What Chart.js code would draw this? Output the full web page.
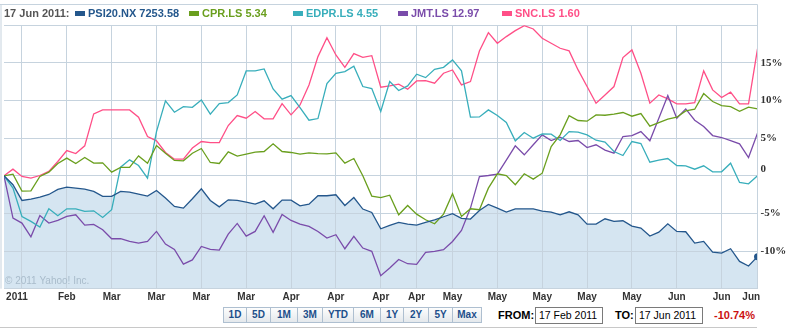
<!DOCTYPE html>
<html>
<head>
<meta charset="utf-8">
<script src="https://cdn.jsdelivr.net/npm/chart.js@4"></script>
<style>
    body { margin: 0; width: 793px; height: 329px; position: relative; overflow: hidden; background: #fff; font-family: "Liberation Sans", Arial, sans-serif; }
    #grafica { position: absolute; left: 0; top: 0; }
    .leyenda { position: absolute; top: 7px; font-weight: bold; font-size: 11px; white-space: nowrap; line-height: 13px; }
    .muestra { position: absolute; top: 11px; width: 10px; height: 5px; }
    #botones { position: absolute; left: 223px; top: 307px; height: 16px; display: flex; }
    #botones div { box-sizing: border-box; height: 16px; border: 1px solid #aebfd0; margin-right: 0; background: linear-gradient(#fdfdfd, #e4e8ec); color: #1d4f8b; font-weight: bold; font-size: 10px; line-height: 14px; text-align: center; }
    .etiqueta { position: absolute; top: 309px; font-weight: bold; font-size: 11px; color: #000; }
    .caja { position: absolute; top: 307px; height: 17px; box-sizing: border-box; border: 1px solid #7a7a7a; font-size: 10.5px; line-height: 15px; padding-left: 3px; color: #000; }
    #cambio { position: absolute; left: 714px; top: 309px; color: #cc1111; font-weight: bold; font-size: 11px; }
    #linea { position: absolute; left: 0; top: 327px; width: 757px; height: 1px; background: #c8c8c8; }
</style>
</head>
<body>
<canvas id="grafica" width="793" height="305"></canvas>
<div id="leyenda"></div>
<div id="botones"></div>
<div class="etiqueta" style="left:498px">FROM:</div>
<div class="caja" style="left:535px; width:68px">17 Feb 2011</div>
<div class="etiqueta" style="left:615px">TO:</div>
<div class="caja" style="left:635px; width:68px">17 Jun 2011</div>
<div id="cambio">-10.74%</div>
<div id="linea"></div>
<script>
// variación % desde 17 Feb 2011, una lectura por sesión
const psi20 = [0, -1.19, -3.27, -3.10, -2.83, -2.48, -1.81, -1.50, -1.64, -1.77, -2.08, -2.74, -2.74, -2.08, -2.17, -2.43, -2.70, -1.95, -2.96, -4.07, -4.29, -3.05,
    -1.73, -3.27, -4.12, -3.19, -3.27, -3.50, -3.76, -3.32, -4.38, -3.23, -3.23, -3.98, -3.76, -2.65, -2.65, -2.52, -3.94, -2.88, -4.42, -4.87, -7.04,
    -6.59, -6.19, -6.42, -6.55, -6.19, -5.84, -5.44, -5.04, -5.66, -5.75, -4.60, -3.81, -4.29, -4.82, -4.38, -4.38, -4.38, -4.69, -4.82, -5.18, -4.78,
    -5.18, -6.42, -6.42, -5.71, -6.06, -5.97, -6.68, -6.95, -8.01, -7.48, -6.37, -7.39, -7.43, -8.94, -8.72, -10.13, -10.27, -9.69, -11.37, -11.99, -10.74];
const cpr = [0, 0.22, -2.04, -1.99, -0.09, 0.49, 1.64, 2.35, 1.64, 2.43, 1.68, 1.73, 0.49, 1.11, 1.11, 2.65, 1.68, 4.03, 3.01, 2.04, 1.99, 3.00,
    3.63, 1.77, 1.64, 3.19, 2.61, 2.88, 3.14, 3.23, 4.25, 3.23, 3.10, 2.88, 3.05, 2.96, 2.92, 3.05, 1.68, 2.30, 0, -2.70, -2.90,
    -2.57, -5.18, -3.94, -5.09, -5.84, -6.37, -5.09, -2.39, -5.40, -4.38, -4.51, -1.64, 0.27, 0.04, -1.19, 0.27, -0.44, 0.35, 3.89, 5.44, 8.00,
    7.35, 7.26, 8.10, 8.05, 8.19, 8.41, 7.92, 8.27, 6.59, 7.08, 7.52, 7.79, 8.63, 8.85, 10.93, 9.87, 9.34, 9.20, 8.58, 9.12, 8.89];
const edpr = [0, -1.64, -5.40, -6.06, -6.81, -4.38, -5.31, -4.38, -4.38, -4.73, -4.65, -5.53, -4.51, 1.15, 2.12, 1.37, -0.31, 5.88, 9.96, 8.45, 9.20, 9.10,
    10.09, 8.19, 9.60, 9.73, 10.75, 13.94, 13.94, 14.20, 11.55, 10.18, 10.66, 9.07, 7.39, 7.61, 12.26, 13.63, 13.85, 14.56, 11.86, 11.59, 8.54,
    12.52, 11.33, 11.95, 13.50, 13.05, 14.16, 14.42, 15.40, 13.94, 7.79, 7.83, 8.76, 8.01, 7.08, 4.65, 5.75, 5.00, 5.58, 5.53, 4.69, 5.88,
    5.80, 5.44, 4.73, 4.47, 3.23, 2.70, 4.56, 4.29, 1.81, 2.08, 2.30, 1.37, 1.33, 0.88, 1.33, 0.53, 0.53, 1.68, -0.88, -1.06, 0];
const jmt = [0, -5.62, -6.28, -8.10, -5.27, -6.28, -5.93, -5.40, -5.18, -6.55, -6.46, -7.17, -8.36, -8.36, -8.72, -8.94, -8.72, -7.39, -9.07, -9.78, -11.73, -11.17,
    -9.38, -9.78, -9.87, -7.74, -6.33, -8.01, -7.39, -5.31, -7.52, -5.13, -5.93, -6.42, -6.73, -7.39, -8.27, -7.83, -9.69, -8.05, -9.60, -10.04, -13.27,
    -12.26, -11.11, -11.68, -11.77, -10.18, -10.04, -9.82, -8.72, -7.26, -4.29, -0.09, 0.04, 0.22, 2.08, 3.98, 2.79, 4.12, 5.44, 4.69, 5.13, 4.56,
    4.69, 3.76, 4.12, 3.41, 3.01, 5.22, 5.35, 5.88, 4.65, 7.65, 10.66, 7.65, 8.89, 7.39, 6.55, 5.35, 5.09, 4.69, 4.25, 2.43, 5.66];
const snc = [0, 0.88, -0.09, -0.31, 0.04, 0.58, 1.90, 3.36, 2.96, 3.98, 8.23, 8.76, 8.76, 8.76, 8.76, 7.79, 5.22, 4.65, 3.10, 2.21, 2.21, 3.70,
    4.56, 4.42, 4.42, 6.68, 8.01, 7.65, 8.54, 7.57, 7.57, 9.60, 8.10, 9.42, 12.08, 15.84, 18.36, 16.06, 14.42, 16.24, 15.75, 15.97, 11.77,
    11.95, 12.17, 11.50, 12.61, 12.65, 12.30, 13.63, 14.07, 12.08, 12.52, 16.59, 19.03, 17.61, 18.50, 19.29, 19.95, 19.51, 18.27, 17.61, 16.95, 16.60,
    14.07, 11.86, 9.65, 10.75, 11.86, 15.71, 16.73, 13.63, 9.65, 10.75, 10.22, 9.56, 9.56, 9.73, 13.94, 11.42, 10.40, 11.11, 9.56, 9.56, 16.86];

const nombres = ["PSI20.NX 7253.58", "CPR.LS 5.34", "EDPR.LS 4.55", "JMT.LS 12.97", "SNC.LS 1.60"];
const colores = ["#24578c", "#6a9f1e", "#38aebb", "#7a4caa", "#ff4f87"];

// marcas del eje x (índice de sesión) y sus textos
const ticksX = [1.44, 2, 7, 12, 17, 22, 27, 32, 37, 42, 46, 50, 55, 60, 65, 70, 75, 80, 83.3];
const textosX = ["2011", "", "Feb", "Mar", "Mar", "Mar", "Mar", "Apr", "Apr", "Apr", "Apr", "May", "May", "May", "May", "May", "Jun", "Jun", "Jun"];
const ticksY = [-15, -10, -5, 0, 5, 10, 15, 20];

const periodos = ["1D", "5D", "1M", "3M", "YTD", "6M", "1Y", "2Y", "5Y", "Max"];
const anchos = [24, 24, 27, 25, 31, 27, 23, 25, 24, 29];

const colorRejilla = "#c6d3de";

$ = s => document.querySelector(s);

function construirLeyenda() {
    let html = `<div class="leyenda" style="left:4px; color:#555">17 Jun 2011:</div>`;
    const posiciones = [75, 189, 293, 398, 502];
    nombres.forEach((n, i) => {
        html += `<div class="muestra" style="left:${posiciones[i]}px; background:${colores[i]}"></div>
                 <div class="leyenda" style="left:${posiciones[i] + 13}px; color:${colores[i]}">${n}</div>`;
    });
    $("#leyenda").innerHTML = html;
}

function construirBotones() {
    $("#botones").innerHTML = periodos.map((p, i) =>
        `<div style="width:${anchos[i]}px; ${i > 0 ? 'border-left:none;' : ''}">${p}</div>`).join("");
}

const marco = {
    id: "marco",
    beforeDatasetsDraw(chart) {
        const {ctx} = chart;
        ctx.save();
        ctx.fillStyle = "#a9bccb";
        ctx.font = "10px 'Liberation Sans'";
        ctx.textBaseline = "middle";
        ctx.fillText("\u00A9 2011 Yahoo! Inc.", 5, 281);
        ctx.restore();
    },
    afterDraw(chart) {
        const {ctx, chartArea} = chart;
        ctx.save();
        ctx.strokeStyle = colorRejilla;
        ctx.lineWidth = 1;
        ctx.beginPath();
        ctx.moveTo(0, 4.5);
        ctx.lineTo(757.5, 4.5);
        ctx.lineTo(757.5, chartArea.bottom);
        ctx.moveTo(1, 4.5);
        ctx.lineTo(1, chartArea.bottom);
        ctx.stroke();
        ctx.restore();
    }
};

function crearGrafica() {
    const series = [psi20, cpr, edpr, jmt, snc];
    const datasets = series.map((s, i) => ({
        label: nombres[i],
        data: s.map((v, k) => ({x: k, y: v})),
        borderColor: colores[i],
        borderWidth: 1.3,
        pointRadius: i === 0 ? (c => c.dataIndex === s.length - 1 ? 3.5 : 0) : 0,
        pointBackgroundColor: colores[i],
        pointBorderWidth: 0,
        fill: i === 0 ? "start" : false,
        backgroundColor: i === 0 ? "#d5e5f1" : colores[i],
        tension: 0,
        clip: 0
    }));

    new Chart($("#grafica").getContext("2d"), {
        type: "line",
        data: {datasets: datasets},
        options: {
            responsive: false,
            animation: false,
            devicePixelRatio: 1,
            layout: {padding: {left: 1.5, top: 25.3, right: 0, bottom: 0}},
            plugins: {
                legend: {display: false},
                tooltip: {enabled: false},
                filler: {drawTime: "beforeDraw"}
            },
            scales: {
                x: {
                    type: "linear",
                    min: 0,
                    max: 84,
                    afterBuildTicks: s => { s.ticks = ticksX.map(v => ({value: v})); },
                    afterFit: s => { s.height = 16.3; },
                    ticks: {
                        autoSkip: false,
                        maxRotation: 0,
                        padding: 3,
                        color: "#333",
                        font: {family: "'Liberation Sans'", size: 10, weight: "bold"},
                        callback: (v, i) => textosX[i]
                    },
                    grid: {
                        color: c => (c.index === 0 || c.index === ticksX.length - 1) ? "rgba(0,0,0,0)" : colorRejilla,
                        drawTicks: false
                    },
                    border: {display: false}
                },
                y: {
                    position: "right",
                    min: -15,
                    max: 20,
                    afterBuildTicks: s => { s.ticks = ticksY.map(v => ({value: v})); },
                    afterFit: s => { s.width = 35.5; },
                    ticks: {
                        padding: 3,
                        color: "#333",
                        font: {family: "'Liberation Serif'", size: 11, weight: "bold", lineHeight: 1.2},
                        callback: v => {
                            if (v === -15 || v === 20) return "";
                            if (v === 0) return ["0", ""];
                            return v + "%";
                        }
                    },
                    grid: {color: colorRejilla, drawTicks: false},
                    border: {display: false}
                }
            }
        },
        plugins: [marco]
    });
}

construirLeyenda();
construirBotones();
crearGrafica();
</script>
</body>
</html>
